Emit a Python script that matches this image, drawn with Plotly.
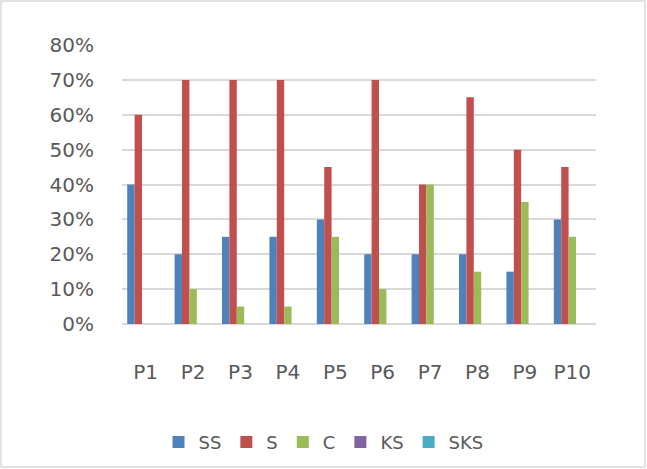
import plotly.graph_objects as go

categories = ["P1", "P2", "P3", "P4", "P5", "P6", "P7", "P8", "P9", "P10"]
series_names = ["SS", "S", "C", "KS", "SKS"]
ss = [0.40, 0.20, 0.25, 0.25, 0.30, 0.20, 0.20, 0.20, 0.15, 0.30]
s = [0.60, 0.70, 0.70, 0.70, 0.45, 0.70, 0.40, 0.65, 0.50, 0.45]
c = [0.00, 0.10, 0.05, 0.05, 0.25, 0.10, 0.40, 0.15, 0.35, 0.25]
ks = [0, 0, 0, 0, 0, 0, 0, 0, 0, 0]
sks = [0, 0, 0, 0, 0, 0, 0, 0, 0, 0]
colors = ["#4F81BD", "#C0504D", "#9BBB59", "#8064A2", "#4BACC6"]
y_ticks = [0, 0.1, 0.2, 0.3, 0.4, 0.5, 0.6, 0.7, 0.8]
y_labels = ["0%", "10%", "20%", "30%", "40%", "50%", "60%", "70%", "80%"]

fig = go.Figure()
for name, vals, col in zip(series_names, [ss, s, c, ks, sks], colors):
    fig.add_trace(go.Bar(x=categories, y=vals, name=name, marker_color=col,
                         marker_line_width=0))

W, H = 647, 469
ml, mr, mt, mb = 122, 51, 45, 145
pw, ph = W - ml - mr, H - mt - mb
FONT = "DejaVu Sans"

fig.update_layout(
    width=W, height=H,
    margin=dict(l=ml, r=mr, t=mt, b=mb),
    paper_bgcolor="white", plot_bgcolor="white",
    barmode="group", bargap=0.22, bargroupgap=0,
    font=dict(family=FONT, size=20, color="#595959"),
    showlegend=True,
    legend=dict(orientation="h", xref="container", yref="container",
                x=0.5, xanchor="center", y=0.057, yanchor="middle",
                font=dict(family=FONT, size=18, color="#595959"), itemwidth=30,
                traceorder="normal"),
    xaxis=dict(showgrid=False, showline=False, zeroline=False,
               ticklabelstandoff=34, tickfont=dict(family=FONT, size=20)),
    yaxis=dict(range=[0, 0.8], tickvals=y_ticks, ticktext=y_labels,
               showgrid=True, gridcolor="#D9D9D9", gridwidth=2,
               zeroline=True, zerolinecolor="#D9D9D9", zerolinewidth=2,
               showline=False, ticklabelstandoff=27,
               tickfont=dict(family=FONT, size=20)),
    shapes=[dict(type="rect", xref="paper", yref="paper",
                 x0=(1 - ml) / pw, x1=(W - 2 - ml) / pw,
                 y0=(H - mb - (H - 2)) / ph, y1=(H - mb - 1) / ph,
                 line=dict(color="#D9D9D9", width=1.5), layer="below")],
)

fig.write_html("out.html")
